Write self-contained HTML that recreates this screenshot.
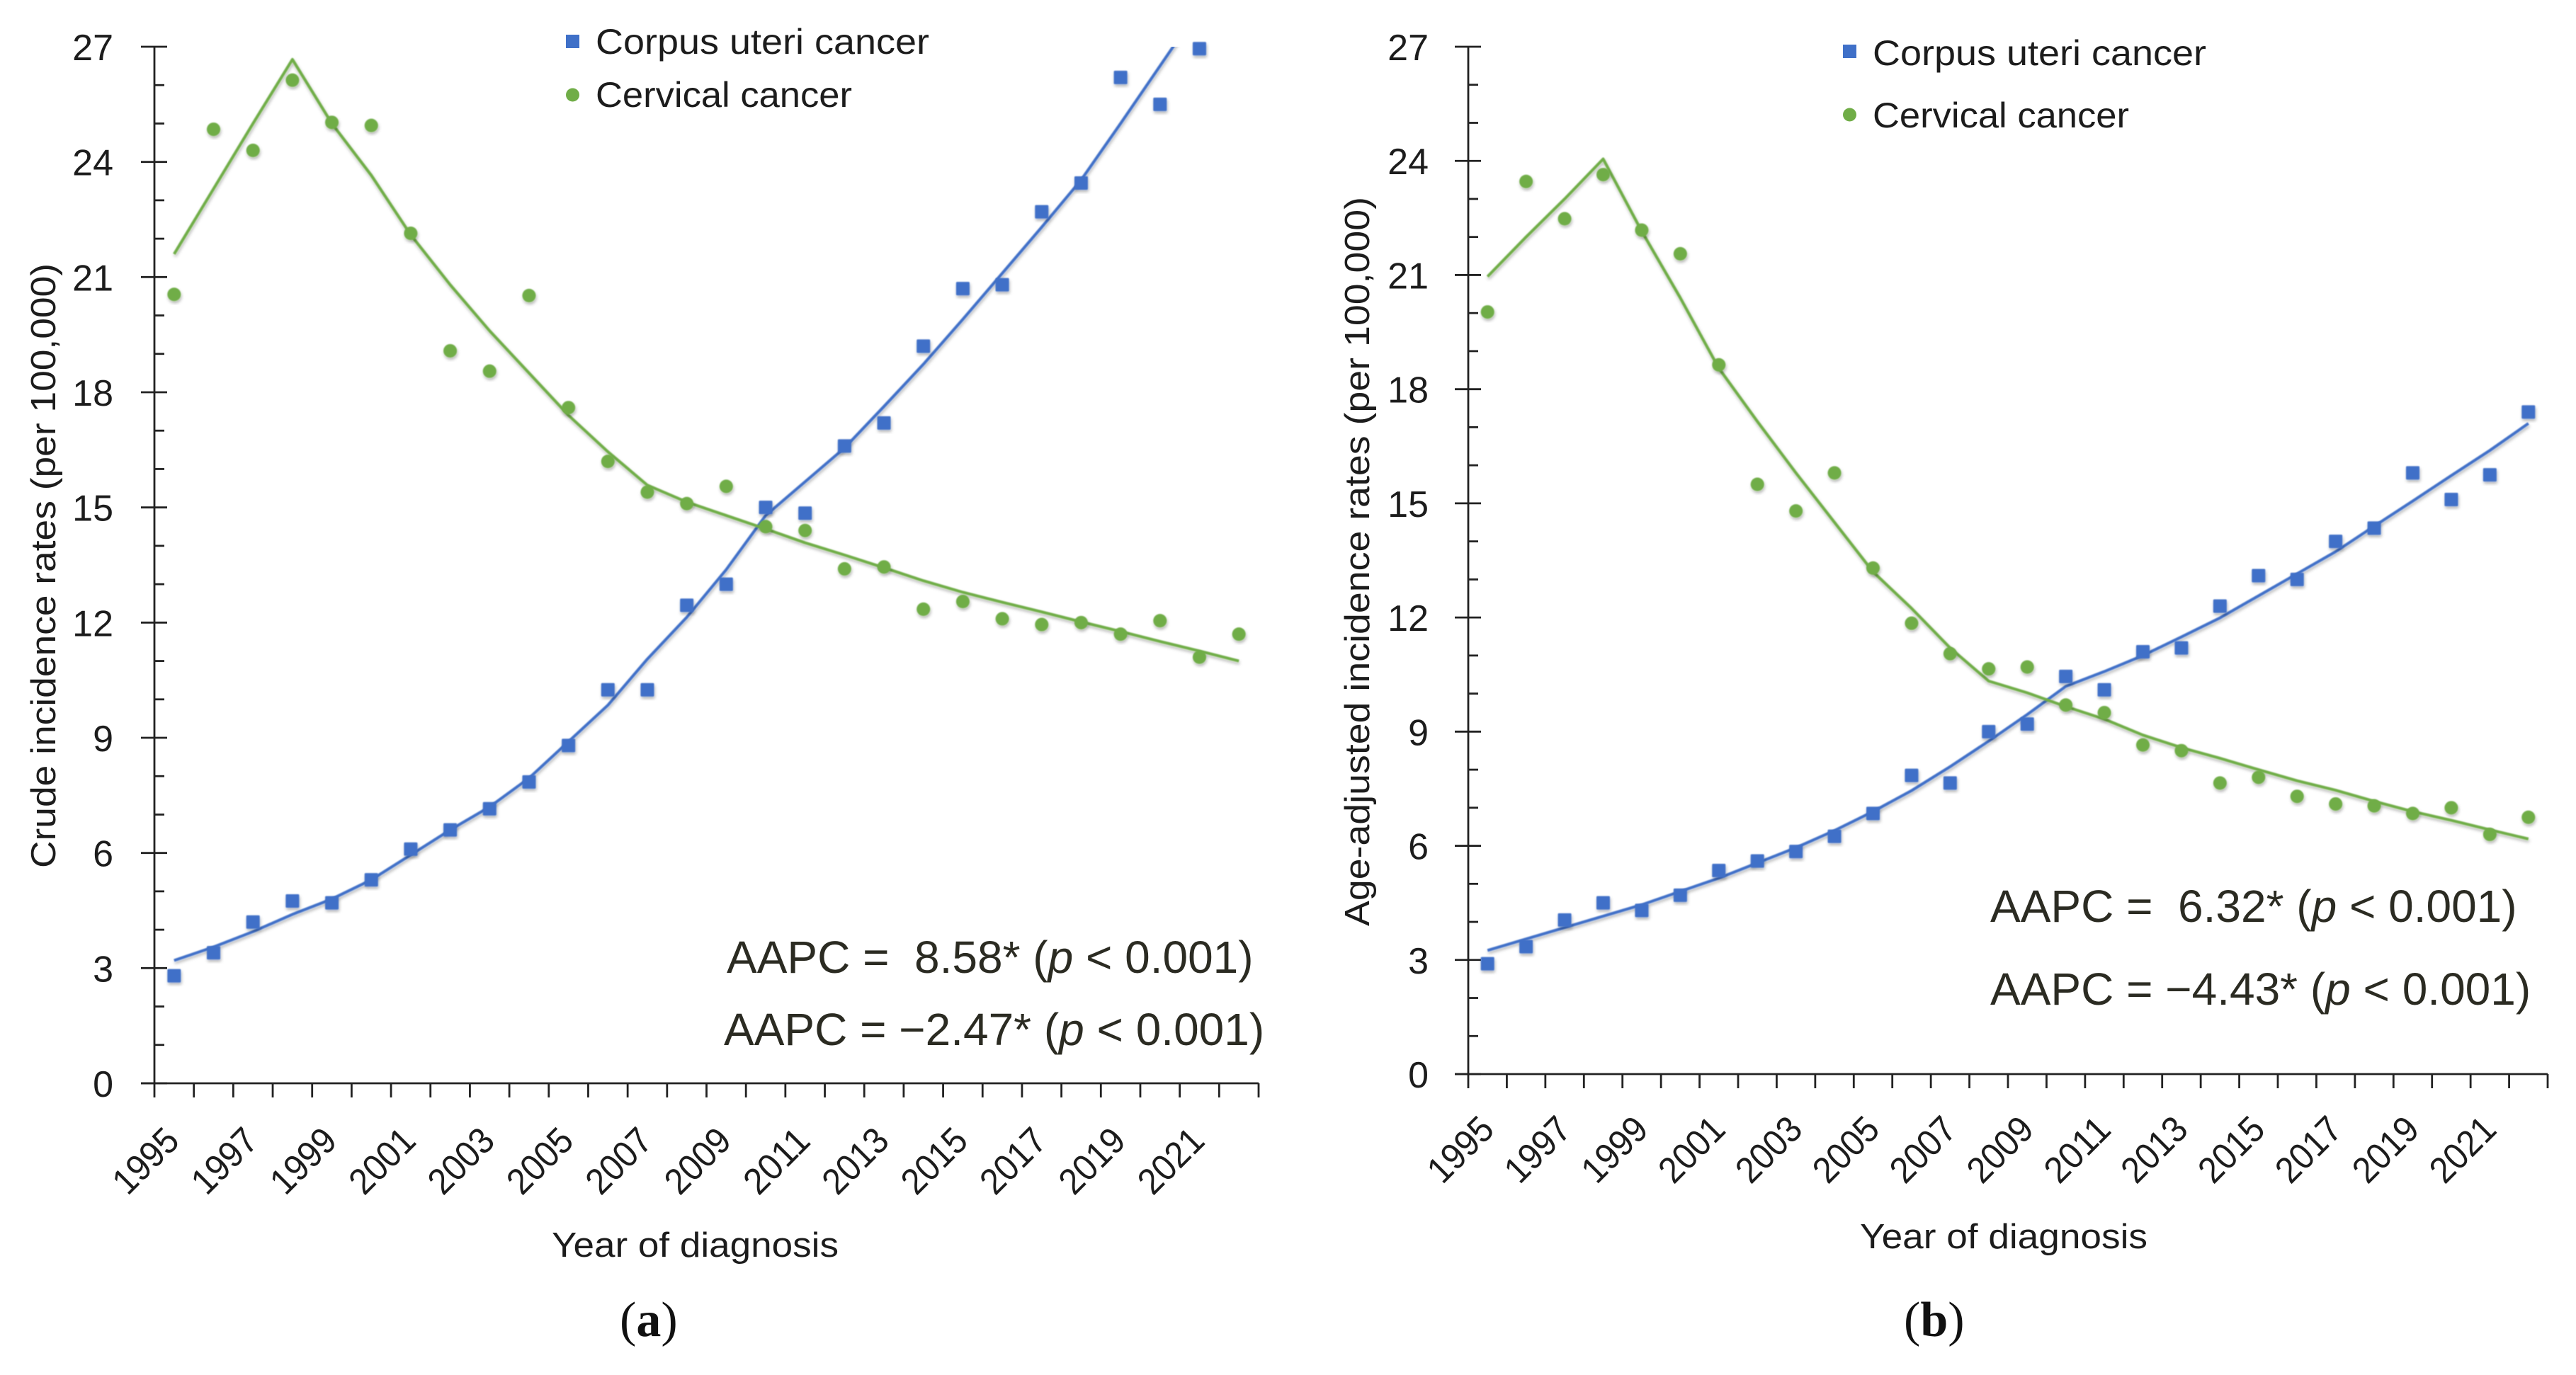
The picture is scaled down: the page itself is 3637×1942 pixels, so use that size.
<!DOCTYPE html>
<html lang="en">
<head>
<meta charset="utf-8">
<title>Cancer incidence trends</title>
<style>
html,body{margin:0;padding:0;background:#fff;width:3637px;height:1942px;overflow:hidden}
svg{display:block}
text{font-family:"Liberation Sans",sans-serif;fill:#1c1c1c}
.aapc{font-size:64px;fill:#2b2b22;white-space:pre}
.legend{font-size:50px}
.title{font-size:49px}
.panel{font-family:"Liberation Serif",serif;font-size:70px;fill:#111}
</style>
</head>
<body>
<svg id="figure" xmlns="http://www.w3.org/2000/svg" width="3637" height="1942" viewBox="0 0 3637 1942">
  <defs>
    <filter id="soft" x="-30%" y="-30%" width="160%" height="160%">
      <feGaussianBlur in="SourceGraphic" stdDeviation="0.7" result="b"/>
      <feDropShadow in="b" dx="1" dy="3" stdDeviation="2" flood-color="#000" flood-opacity="0.3"/>
    </filter>
  </defs>
  <g id="chart-a">
    <text class="title" transform="translate(78,799) rotate(-90)" text-anchor="middle" textLength="854" lengthAdjust="spacingAndGlyphs">Crude incidence rates (per 100,000)</text>
    <text class="title" x="779" y="1775" textLength="405" lengthAdjust="spacingAndGlyphs">Year of diagnosis</text>
    <rect x="799" y="49" width="19" height="19" fill="#3f70c8"/>
    <text class="legend" x="841" y="76" textLength="471" lengthAdjust="spacingAndGlyphs">Corpus uteri cancer</text>
    <circle cx="808.5" cy="134" r="9.5" fill="#70ad47"/>
    <text class="legend" x="841" y="151" textLength="362" lengthAdjust="spacingAndGlyphs">Cervical cancer</text>
    <text class="aapc" x="1026" y="1374" xml:space="preserve">AAPC =  8.58* (<tspan font-style="italic">p</tspan> &lt; 0.001)</text>
    <text class="aapc" x="1022" y="1476" xml:space="preserve">AAPC = −2.47* (<tspan font-style="italic">p</tspan> &lt; 0.001)</text>
    <text class="panel" x="875" y="1887">(<tspan font-weight="bold">a</tspan>)</text>
  </g>
  <g id="chart-b">
    <text class="title" transform="translate(1933,793) rotate(-90)" text-anchor="middle" textLength="1030" lengthAdjust="spacingAndGlyphs">Age-adjusted incidence rates (per 100,000)</text>
    <text class="title" x="2626" y="1763" textLength="406" lengthAdjust="spacingAndGlyphs">Year of diagnosis</text>
    <rect x="2602" y="63" width="19" height="19" fill="#3f70c8"/>
    <text class="legend" x="2644" y="92" textLength="471" lengthAdjust="spacingAndGlyphs">Corpus uteri cancer</text>
    <circle cx="2611.5" cy="162" r="9.5" fill="#70ad47"/>
    <text class="legend" x="2644" y="180" textLength="362" lengthAdjust="spacingAndGlyphs">Cervical cancer</text>
    <text class="aapc" x="2810" y="1302" xml:space="preserve">AAPC =  6.32* (<tspan font-style="italic">p</tspan> &lt; 0.001)</text>
    <text class="aapc" x="2810" y="1419" xml:space="preserve">AAPC = −4.43* (<tspan font-style="italic">p</tspan> &lt; 0.001)</text>
    <text class="panel" x="2688" y="1887">(<tspan font-weight="bold">b</tspan>)</text>
  </g>
</svg>
<script>
const years = [1995,1996,1997,1998,1999,2000,2001,2002,2003,2004,2005,2006,2007,2008,2009,2010,2011,2012,2013,2014,2015,2016,2017,2018,2019,2020,2021,2022];
const yearLabels = [1995,1997,1999,2001,2003,2005,2007,2009,2011,2013,2015,2017,2019,2021];
const yMajorTicks = [0,3,6,9,12,15,18,21,24,27];
const yMinorTicks = [1,2,4,5,7,8,10,11,13,14,16,17,19,20,22,23,25,26];

const corpusPointsA = [2.8,3.4,4.2,4.75,4.7,5.3,6.1,6.6,7.15,7.85,8.8,10.25,10.25,12.45,13.0,15.0,14.85,16.6,17.2,19.2,20.7,20.8,22.7,23.45,26.2,25.5,26.95,null];
const corpusTrendA = [3.2,3.55,3.95,4.4,4.8,5.3,5.95,6.6,7.2,7.95,8.9,9.85,11.05,12.14,13.38,14.79,15.67,16.55,17.63,18.73,19.9,21.1,22.3,23.53,25.0,26.5,28.0,29.5];
const cervicalPointsA = [20.55,24.85,24.3,26.13,25.03,24.95,22.14,19.08,18.55,20.52,17.6,16.2,15.4,15.1,15.55,14.5,14.4,13.4,13.45,12.35,12.55,12.1,11.95,12.0,11.7,12.05,11.1,11.7];
const cervicalTrendA = [21.6,23.3,25.0,26.67,25.0,23.65,22.1,20.8,19.6,18.5,17.4,16.45,15.58,15.14,14.79,14.44,14.08,13.76,13.43,13.09,12.79,12.53,12.28,12.02,11.77,11.51,11.26,11.0];

const corpusPointsB = [2.9,3.35,4.05,4.5,4.3,4.7,5.35,5.6,5.85,6.25,6.85,7.85,7.65,9.0,9.2,10.45,10.1,11.1,11.2,12.3,13.1,13.0,14.0,14.35,15.8,15.1,15.75,17.4];
const corpusTrendB = [3.25,3.55,3.85,4.15,4.45,4.8,5.15,5.55,5.95,6.4,6.9,7.45,8.08,8.75,9.45,10.19,10.58,11.0,11.49,11.99,12.57,13.15,13.73,14.4,15.06,15.73,16.39,17.1];
const cervicalPointsB = [20.03,23.46,22.48,23.64,22.18,21.56,18.64,15.5,14.8,15.8,13.3,11.85,11.05,10.65,10.7,9.7,9.5,8.65,8.5,7.65,7.8,7.3,7.1,7.05,6.85,7.0,6.3,6.75];
const cervicalTrendB = [20.96,22.0,23.0,24.05,22.15,20.4,18.55,17.15,15.8,14.5,13.2,12.24,11.2,10.33,10.02,9.66,9.33,8.91,8.58,8.3,8.0,7.71,7.46,7.17,6.9,6.67,6.42,6.18];

const SVG_NS = 'http://www.w3.org/2000/svg';
const BLUE = '#3f70c8';
const GREEN = '#70ad47';
const INK = '#222222';

function make(tag, attrs, parent) {
  const el = document.createElementNS(SVG_NS, tag);
  for (const k in attrs) el.setAttribute(k, attrs[k]);
  parent.appendChild(el);
  return el;
}

function drawPanel(cfg, corpusPoints, corpusTrend, cervicalPoints, cervicalTrend) {
  const root = document.getElementById(cfg.id);
  const bandWidth = (cfg.xEnd - cfg.xStart) / years.length;
  const xBand = i => cfg.xStart + i * bandWidth;
  const xCenter = i => xBand(i + 0.5);
  const yScale = v => cfg.yZero - v * (cfg.yZero - cfg.yTop) / 27;

  const clip = make('clipPath', {id: 'clip-' + cfg.id}, root);
  make('rect', {x: cfg.xStart, y: cfg.yTop, width: cfg.xEnd - cfg.xStart, height: cfg.yZero - cfg.yTop}, clip);

  const axisStyle = {stroke: INK, 'stroke-width': 2.8, fill: 'none'};

  const yAxis = make('line', Object.assign({x1: cfg.xStart, x2: cfg.xStart, y1: cfg.yTop, y2: cfg.yZero}, axisStyle), root);
  
  

  const xAxis = make('line', Object.assign({x1: cfg.xStart - 19, x2: cfg.xEnd, y1: cfg.yZero, y2: cfg.yZero}, axisStyle), root);
  
  

  yMajorTicks.forEach(v => {
    const tick = make('line', Object.assign({x1: cfg.xStart - 19, x2: cfg.xStart + 18, y1: yScale(v), y2: yScale(v)}, axisStyle), root);
    
    
    const label = make('text', {x: cfg.yLabelRight, y: yScale(v) + 19, 'text-anchor': 'end', 'font-size': 52}, root);
    
    
    label.textContent = String(v);
  });

  yMinorTicks.forEach(v => {
    const tick = make('line', Object.assign({x1: cfg.xStart, x2: cfg.xStart + 14, y1: yScale(v), y2: yScale(v)}, axisStyle), root);
    
    
  });

  for (let i = 0; i <= years.length; i++) {
    const tick = make('line', Object.assign({x1: xBand(i), x2: xBand(i), y1: cfg.yZero, y2: cfg.yZero + 20}, axisStyle), root);
    
    
  }

  yearLabels.forEach(year => {
    const i = years.indexOf(year);
    const cx = xCenter(i) + cfg.labelDx;
    const cy = cfg.yZero + cfg.labelDy;
    const label = make('text', {
      transform: 'translate(' + cx + ',' + cy + ') rotate(-45)',
      y: 18.5, 'text-anchor': 'middle', 'font-size': 52,
      textLength: 107, lengthAdjust: 'spacingAndGlyphs'
    }, root);
    
    
    label.textContent = String(year);
  });

  function trendLine(values, color, name) {
    const pts = values.map((v, i) => xCenter(i) + ',' + yScale(v)).join(' ');
    const holder = make('g', {'clip-path': 'url(#clip-' + cfg.id + ')'}, root);
    
    
    const line = make('polyline', {points: pts, fill: 'none', stroke: color, 'stroke-width': 4, 'stroke-linejoin': 'round', filter: 'url(#soft)'}, holder);
    
    
  }

  trendLine(corpusTrend, BLUE, 'corpus-trend-line');
  trendLine(cervicalTrend, GREEN, 'cervical-trend-line');

  corpusPoints.forEach((v, i) => {
    if (v === null) return;
    const mark = make('rect', {x: xCenter(i) - 9.5, y: yScale(v) - 9.5, width: 19, height: 19, rx: 1.5, fill: BLUE, filter: 'url(#soft)'}, root);
    
    
  });

  cervicalPoints.forEach((v, i) => {
    const mark = make('circle', {cx: xCenter(i), cy: yScale(v), r: 9.5, fill: GREEN, filter: 'url(#soft)'}, root);
    
    
  });
}

drawPanel({id: 'chart-a', xStart: 218, xEnd: 1777, yTop: 66, yZero: 1530, yLabelRight: 160, labelDx: -41, labelDy: 109},
  corpusPointsA, corpusTrendA, cervicalPointsA, cervicalTrendA);
drawPanel({id: 'chart-b', xStart: 2073, xEnd: 3597, yTop: 66, yZero: 1517, yLabelRight: 2017, labelDx: -39, labelDy: 106},
  corpusPointsB, corpusTrendB, cervicalPointsB, cervicalTrendB);
</script>
</body>
</html>
